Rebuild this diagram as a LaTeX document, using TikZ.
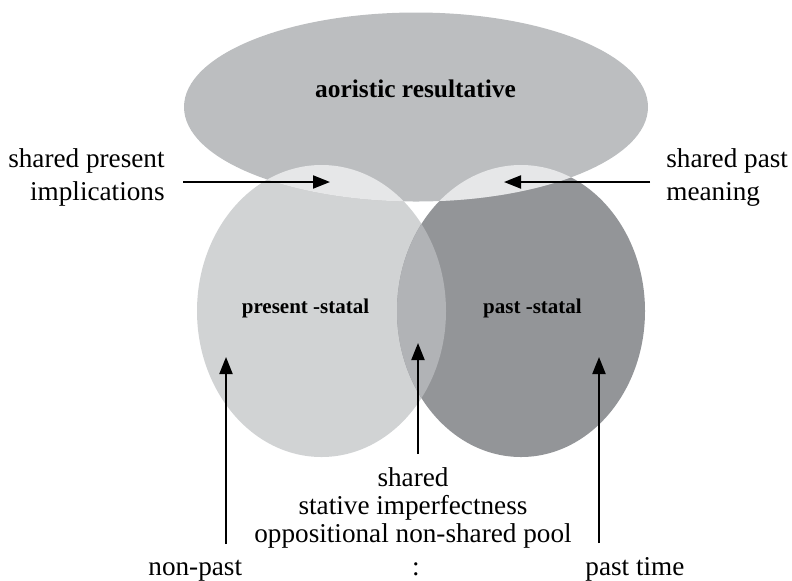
\documentclass[tikz,border=0pt]{standalone}
\usepackage{fontspec}
\setmainfont{Liberation Serif}
\usetikzlibrary{arrows.meta}
\definecolor{aoristgray}{HTML}{BCBEC0}
\definecolor{presgray}{HTML}{D1D3D4}
\definecolor{pastgray}{HTML}{939598}
\definecolor{statgray}{HTML}{B1B3B6}
\definecolor{sharedgray}{HTML}{E6E7E8}

\begin{document}
\begin{tikzpicture}[x=0.5pt,y=-0.5pt,
  lbl/.style={inner sep=0pt,font=\fontsize{13.6}{16.5}\selectfont},
  boldlbl/.style={inner sep=0pt,font=\bfseries\fontsize{10.5}{12}\selectfont},
  arr/.style={line width=1pt,-{Triangle[length=8.5pt,width=6.5pt]}}]
\useasboundingbox (0,0) rectangle (792,580);

% the three ellipses
\fill[presgray] (321.5,311) ellipse [x radius=124.5, y radius=146];
\fill[pastgray] (521,311) ellipse [x radius=124, y radius=146];
\begin{scope}
\clip (321.5,311) ellipse [x radius=124.5, y radius=146];
\fill[statgray] (521,311) ellipse [x radius=124, y radius=146];
\end{scope}
\fill[aoristgray] (416,107) ellipse [x radius=232, y radius=94.5];
\begin{scope}
\clip (416,107) ellipse [x radius=232, y radius=94.5];
\fill[sharedgray] (321.5,311) ellipse [x radius=124.5, y radius=146];
\fill[sharedgray] (521,311) ellipse [x radius=124, y radius=146];
\end{scope}

% labels
\node[boldlbl,font=\bfseries\fontsize{12.7}{15}\selectfont,anchor=base] (aorist) at (415.5,97) {aoristic resultative};
\node[boldlbl,anchor=base] (prestat) at (305.5,313) {present -statal};
\node[boldlbl,anchor=base] (paststat) at (532.5,313) {past -statal};
\node[lbl,align=right,anchor=north east] (sharedpres) at (165,148) {shared present\\implications};
\node[lbl,align=left,anchor=north west] (sharedpast) at (666,148) {shared past\\meaning};
\node[lbl,font=\fontsize{13.6}{14}\selectfont,align=center,anchor=north] (sharedstat) at (413,467) {shared\\stative imperfectness\\oppositional non-shared pool};
\node[lbl,anchor=base] (colon) at (416,575) {:};
\node[lbl,anchor=base west] (nonpast) at (148,575) {non-past};
\node[lbl,anchor=base west] (pasttime) at (585,575) {past time};

% arrows
\coordinate (presfrom) at (183,182);
\coordinate (presto) at (330,182);
\coordinate (pastfrom) at (650,182);
\coordinate (pastto) at (504,182);
\coordinate (nonpastfrom) at (226,544);
\coordinate (nonpastto) at (226,357);
\coordinate (statfrom) at (418,454);
\coordinate (statto) at (418,343);
\coordinate (timefrom) at (599,543);
\coordinate (timeto) at (599,357);
\draw[arr] (presfrom) -- (presto);
\draw[arr] (pastfrom) -- (pastto);
\draw[arr] (nonpastfrom) -- (nonpastto);
\draw[arr] (statfrom) -- (statto);
\draw[arr] (timefrom) -- (timeto);
\end{tikzpicture}
\end{document}
